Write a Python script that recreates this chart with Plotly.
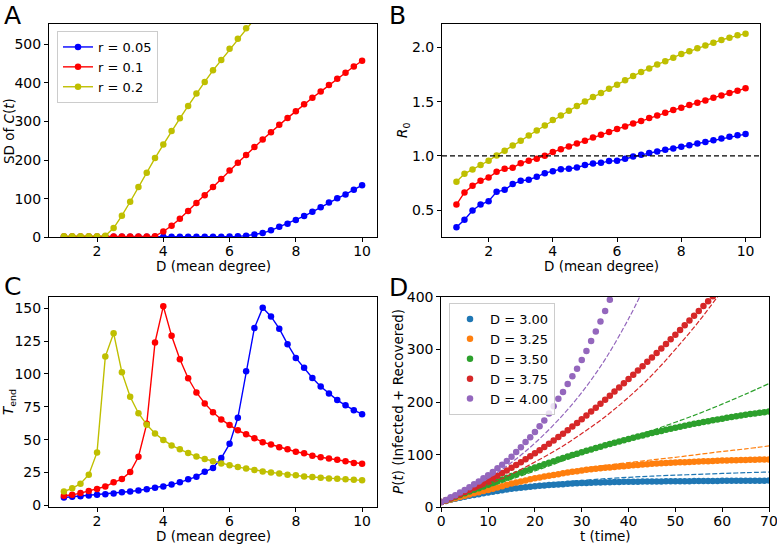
import plotly.graph_objects as go
from plotly.subplots import make_subplots

# mean degree grid for panels A-C
D = [1.0, 1.25, 1.5, 1.75, 2.0, 2.25, 2.5, 2.75, 3.0, 3.25, 3.5, 3.75, 4.0, 4.25, 4.5, 4.75,
     5.0, 5.25, 5.5, 5.75, 6.0, 6.25, 6.5, 6.75, 7.0, 7.25, 7.5, 7.75, 8.0, 8.25, 8.5, 8.75,
     9.0, 9.25, 9.5, 9.75, 10.0]

rates = ['r = 0.05', 'r = 0.1', 'r = 0.2']
rate_colors = ['#0000ff', '#ff0000', '#bfbf00']

# A: SD of C(t)
sd_005 = [1.5, 1.5, 1.5, 1.5, 1.5, 1.5, 1.5, 1.5, 1.5, 1.5, 1.5, 1.5, 1.5, 1.5, 1.5, 1.5,
          1.5, 1.5, 1.5, 1.5, 2, 2.5, 4, 7, 11, 18, 27, 35, 45, 55, 66, 78, 90, 101, 111, 123, 135]
sd_01 = [2, 2, 2, 2, 2, 2, 2, 2, 2, 2, 2, 3, 15, 30, 48, 68, 89, 109, 130, 151, 173, 193, 213,
         234, 253, 272, 291, 309, 326, 344, 361, 377, 394, 410, 426, 442, 457]
sd_02 = [3, 3, 3, 3, 3, 4, 24, 56, 92, 130, 167, 205, 240, 275, 308, 340, 372, 402, 432, 459,
         488, 514, 541, 566, 591, 615, 639, 662, 685, 707, 729, 750, 770, 790, 810, 829, 848]

# B: R0
r0_005 = [0.343, 0.411, 0.497, 0.552, 0.583, 0.669, 0.687, 0.740, 0.770, 0.780, 0.807, 0.841,
          0.859, 0.878, 0.881, 0.893, 0.915, 0.930, 0.936, 0.952, 0.955, 0.973, 0.995, 1.010,
          1.026, 1.041, 1.056, 1.069, 1.084, 1.099, 1.115, 1.127, 1.145, 1.161, 1.176, 1.191, 1.201]
r0_01 = [0.552, 0.663, 0.724, 0.770, 0.801, 0.853, 0.881, 0.890, 0.933, 0.955, 0.973, 1.001,
         1.035, 1.062, 1.087, 1.115, 1.139, 1.170, 1.195, 1.219, 1.247, 1.271, 1.299, 1.321,
         1.348, 1.373, 1.397, 1.422, 1.444, 1.468, 1.490, 1.511, 1.536, 1.557, 1.579, 1.600, 1.622]
r0_02 = [0.761, 0.835, 0.875, 0.915, 0.955, 1.004, 1.047, 1.096, 1.139, 1.188, 1.234, 1.281,
         1.330, 1.373, 1.416, 1.459, 1.502, 1.542, 1.579, 1.619, 1.656, 1.696, 1.736, 1.773,
         1.806, 1.843, 1.871, 1.905, 1.939, 1.963, 1.991, 2.018, 2.043, 2.068, 2.089, 2.111, 2.126]

# C: T_end
tend_005 = [6, 6.5, 7, 7.5, 8, 8.5, 9, 10, 10.5, 11.3, 12.3, 13.3, 14.3, 15.8, 17.5, 19.8, 21.8,
            25.5, 28.5, 36, 46.8, 66.6, 102, 135, 150.3, 143.8, 134.5, 122.7, 112.2, 104.7, 96.9,
            90.4, 85.1, 80.1, 76.1, 72.4, 69.4]
tend_01 = [7.3, 8, 9.3, 11, 12.5, 14.3, 17.5, 20, 25.3, 37, 62, 124, 151.5, 129, 111.2, 96.7,
           85.9, 77.6, 70.9, 65.4, 61.1, 57.1, 54.1, 51.1, 48.1, 46.3, 44.3, 42.6, 40.8, 39.6,
           37.8, 36.6, 35.6, 34.6, 33.6, 32.3, 31.6]
tend_02 = [10.5, 13, 16.5, 23.3, 40.3, 113.2, 131, 101.2, 82.6, 70.1, 61.4, 54.6, 49.8, 45.6,
           42.6, 39.8, 37.1, 35.3, 33.6, 31.8, 30.6, 29.1, 28, 26.8, 25.8, 25, 24.3, 23.3, 22.8,
           22, 21.5, 21, 20.5, 20.3, 19.8, 19.5, 19]

# D: P(t) simulations (dots) and fits (dashed)
d_labels = ['D = 3.00', 'D = 3.25', 'D = 3.50', 'D = 3.75', 'D = 4.00']
d_colors = ['#1f77b4', '#ff7f0e', '#2ca02c', '#d62728', '#9467bd']

p_300 = [10, 12.1, 14.2, 16.2, 18.1, 20, 21.7, 23.3, 24.9, 26.5, 28, 29.5, 30.9, 32.3, 33.7, 35,
         36.1, 37.1, 38.1, 39.1, 40, 40.8, 41.5, 42.2, 42.9, 43.5, 44, 44.5, 45, 45.5, 46, 46.3,
         46.6, 46.9, 47.2, 47.5, 47.7, 47.9, 48.1, 48.3, 48.5, 48.6, 48.7, 48.8, 48.9, 49, 49.1,
         49.2, 49.3, 49.4, 49.5, 49.6, 49.6, 49.7, 49.8, 49.8, 49.9, 50, 50, 50.1, 50.2, 50.2,
         50.3, 50.3, 50.4, 50.4, 50.5, 50.5, 50.6, 50.6, 50.7]
p_325 = [10, 12.5, 15, 17.4, 19.7, 22, 24.3, 26.5, 28.7, 30.9, 33, 35.4, 37.8, 40.2, 42.6, 45,
         47.1, 49.1, 51.1, 53.1, 55, 56.7, 58.3, 59.9, 61.5, 63, 64.5, 65.9, 67.3, 68.7, 70, 71.1,
         72.1, 73.1, 74.1, 75, 75.8, 76.6, 77.4, 78.2, 79, 79.7, 80.4, 81.1, 81.8, 82.5, 83, 83.5,
         84, 84.5, 85, 85.4, 85.8, 86.2, 86.6, 87, 87.4, 87.7, 88.1, 88.4, 88.8, 89, 89.3, 89.5,
         89.8, 90, 90.2, 90.4, 90.6, 90.8, 91]
p_350 = [10, 13.3, 16.6, 19.9, 23.2, 26.5, 29.8, 33.1, 36.4, 39.7, 43, 46.3, 49.6, 52.9, 56.2,
         59.5, 62.8, 66.0, 69.2, 72.4, 75.5, 78.6, 81.6, 84.7, 87.6, 90.6, 93.4, 96.3, 99.1,
         101.9, 104.6, 107.3, 110.0, 112.6, 115.1, 117.7, 120.2, 122.6, 125.1, 127.4, 129.8,
         132.1, 134.4, 136.6, 138.8, 140.9, 143.0, 145.1, 147.1, 149.1, 151.1, 153.0, 154.8,
         156.7, 158.5, 160.2, 161.9, 163.6, 165.3, 166.9, 168.4, 169.9, 171.4, 172.9, 174.3,
         175.6, 177.0, 178.3, 179.5, 180.7, 181.9]
p_375 = [10, 13.6, 17.2, 21, 24.9, 28.9, 33, 37.3, 41.6, 46.1, 50.6, 55.3, 60.1, 65, 70, 75.2,
         80.4, 85.8, 91.3, 96.9, 102.6, 108.5, 114.5, 120.7, 126.9, 133.3, 139.9, 146.5, 153.3,
         160.2, 167.3, 174.5, 181.8, 189.2, 196.7, 204.4, 212.0, 219.8, 227.7, 235.6, 243.6,
         251.6, 259.8, 268.0, 276.3, 284.7, 293.2, 301.7, 310.3, 319.0, 327.8, 336.6, 345.6,
         354.6, 363.7, 372.9, 382.2, 391.5, 400.8, 410.3, 419.8]
p_400 = [10, 14, 19, 23, 28, 33, 38, 44, 49, 55, 61, 67, 74, 81, 88, 96, 105, 114, 124, 133, 143,
         154, 165, 178, 192, 206, 219, 234, 249, 263, 280, 297, 316, 334, 353, 373, 394, 416, 439]
p_series = [p_300, p_325, p_350, p_375, p_400]

fit_t = [0, 5, 10, 15, 20, 25, 30, 35, 40, 45, 50, 55, 60, 65, 70]
fit_300 = [10, 20.5, 29.5, 37, 43, 47.5, 51, 54.3, 57, 59.2, 61, 62.7, 64.3, 65.7, 67]
fit_325 = [10, 22.5, 34, 45.5, 56, 65, 73, 79.5, 85, 90, 95, 100.5, 106, 111, 116.5]
fit_350 = [10, 24, 38.5, 53.5, 69, 85, 101, 117, 131.5, 146, 161.5, 178, 196, 215, 235]
fit_375 = [10, 26, 43, 63, 86, 111, 140, 172, 209, 251, 300, 353, 412]
fit_400 = [10, 31, 55, 85, 122, 166, 218, 281, 358, 411]
fit_400_t = [0, 5, 10, 15, 20, 25, 30, 35, 40, 43]
fit_series = [fit_300, fit_325, fit_350, fit_375, fit_400]

W, H = 777, 545
FONT = 'DejaVu Sans'

fig = make_subplots(rows=2, cols=2)

panel_a = [sd_005, sd_01, sd_02]
panel_b = [r0_005, r0_01, r0_02]
panel_c = [tend_005, tend_01, tend_02]
for name, color, ya, yb, yc in zip(rates, rate_colors, panel_a, panel_b, panel_c):
    style = dict(mode='lines+markers', line=dict(color=color, width=1.4),
                 marker=dict(color=color, size=6.5))
    fig.add_trace(go.Scatter(x=D, y=ya, name=name, **style), row=1, col=1)
    fig.add_trace(go.Scatter(x=D, y=yb, name=name, showlegend=False, **style), row=1, col=2)
    fig.add_trace(go.Scatter(x=D, y=yc, name=name, showlegend=False, **style), row=2, col=1)

fig.add_hline(y=1.0, row=1, col=2, line=dict(color='black', width=1.2, dash='5px,3px'))

for name, color, p, fit in zip(d_labels, d_colors, p_series, fit_series):
    fig.add_trace(go.Scatter(x=list(range(len(p))), y=p, name=name, mode='markers',
                             marker=dict(color=color, size=6.5), legend='legend2'),
                  row=2, col=2)
    ft = fit_400_t if fit is fit_400 else fit_t[:len(fit)]
    fig.add_trace(go.Scatter(x=ft, y=fit, mode='lines', showlegend=False,
                             line=dict(color=color, width=1.2, dash='5px,2px', shape='spline')),
                  row=2, col=2)

axis_style = dict(showline=True, linecolor='black', linewidth=1, mirror=True, ticks='outside',
                  ticklen=4, tickcolor='black', showgrid=False, zeroline=False,
                  automargin=False, ticklabeloverflow='allow',
                  tickfont=dict(size=14, color='black'))
fig.update_xaxes(ticklabelstandoff=-3, **axis_style)
fig.update_yaxes(**axis_style)

left = [49 / W, 377 / W]
right = [442 / W, 760 / W]
right_d = [441.3 / W, 769 / W]
top = [1 - 237.3 / H, 1 - 24 / H]
bottom = [1 - 507.3 / H, 1 - 296.7 / H]

legend_style = dict(xanchor='left', yanchor='top', bordercolor='#cccccc', borderwidth=1,
                    bgcolor='rgba(255,255,255,0.8)', font=dict(size=13, color='black'),
                    tracegroupgap=0, itemwidth=30)

fig.update_layout(
    xaxis=dict(domain=left, range=[0.55, 10.45], tickvals=[2, 4, 6, 8, 10]),
    yaxis=dict(domain=top, range=[0, 552], tickvals=[0, 100, 200, 300, 400, 500]),
    xaxis2=dict(domain=right, range=[0.55, 10.45], tickvals=[2, 4, 6, 8, 10]),
    yaxis2=dict(domain=top, range=[0.25, 2.215], tickvals=[0.5, 1.0, 1.5, 2.0], tickformat='.1f'),
    xaxis3=dict(domain=left, range=[0.55, 10.45], tickvals=[2, 4, 6, 8, 10]),
    yaxis3=dict(domain=bottom, range=[-1.5, 158.8], tickvals=[0, 25, 50, 75, 100, 125, 150]),
    xaxis4=dict(domain=right_d, range=[0, 70], tickvals=[0, 10, 20, 30, 40, 50, 60, 70]),
    yaxis4=dict(domain=bottom, range=[0, 400], tickvals=[0, 100, 200, 300, 400]),
    legend=dict(x=57 / W, y=1 - 31 / H, **legend_style),
    legend2=dict(x=449 / W, y=1 - 303 / H, **legend_style),
    width=W, height=H, margin=dict(l=0, r=0, t=0, b=0),
    plot_bgcolor='white', paper_bgcolor='white',
    font=dict(family=FONT, color='black'),
)

# axis titles placed as annotations (pixel positions from the reference)
titles = [
    ('D (mean degree)', 213, 266, 0),
    ('D (mean degree)', 601, 266, 0),
    ('D (mean degree)', 213, 536, 0),
    ('t (time)', 605, 536, 0),
    ('SD of <i>C</i>(<i>t</i>)', 9, 131, -90),
    ('<i>R</i><sub>0</sub>', 403, 131, -90),
    ('<i>T</i><sub>end</sub>', 9, 402, -90),
    ('<i>P</i>(<i>t</i>) (Infected + Recovered)', 398, 402, -90),
]
for text, x, y, angle in titles:
    fig.add_annotation(text=text, x=x / W, y=1 - y / H, xref='paper', yref='paper',
                       xanchor='center', yanchor='middle', textangle=angle, showarrow=False,
                       font=dict(size=13.5, color='black', family=FONT))

for letter, x, y in [('A', 2, 15), ('B', 387, 15), ('C', 2, 286), ('D', 387, 287)]:
    fig.add_annotation(text=letter, x=x / W, y=1 - y / H, xref='paper', yref='paper',
                       xanchor='left', yanchor='middle', showarrow=False,
                       font=dict(size=25, color='black', family=FONT))

# the page body has a default 8px margin; drop it so the figure fills the window
fig.write_html('out.html', config={'displayModeBar': False},
               post_script="document.body.style.margin = '0';")
